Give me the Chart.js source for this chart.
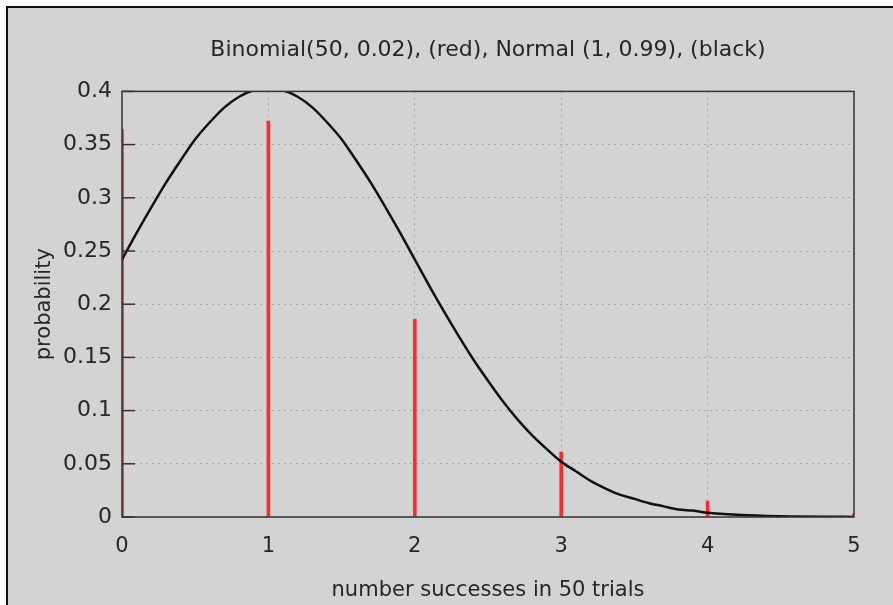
<!DOCTYPE html>
<html>
<head>
<meta charset="utf-8">
<script src="https://cdn.jsdelivr.net/npm/chart.js@4"></script>
<style>
    html, body { margin: 0; padding: 0; background: #fff; }
    #frame {
        position: absolute; left: 6px; top: 6px; width: 887px; height: 599px;
        border-top: 2px solid #111; border-left: 2px solid #111;
        background: #d3d3d3; box-sizing: border-box;
    }
    #chart { position: absolute; left: 0; top: 0; }
</style>
</head>
<body>
<div id="frame"></div>
<canvas id="chart" width="893" height="605"></canvas>
<script>
// ---- Data ----
const successes = [0, 1, 2, 3, 4, 5];
const binomialProb = [0.364, 0.372, 0.186, 0.061, 0.015, 0.003];

const curveX = [0, 0.1, 0.2, 0.3, 0.4, 0.5, 0.6, 0.7, 0.8, 0.9, 1.0,
    1.1, 1.2, 1.3, 1.4, 1.5, 1.6, 1.7, 1.8, 1.9, 2.0,
    2.1, 2.2, 2.3, 2.4, 2.5, 2.6, 2.7, 2.8, 2.9, 3.0,
    3.1, 3.2, 3.3, 3.4, 3.5, 3.6, 3.7, 3.8, 3.9, 4.0,
    4.2, 4.4, 4.6, 4.8, 5.0];
const curveY = [0.242, 0.267, 0.291, 0.314, 0.335, 0.355, 0.371, 0.385, 0.395, 0.401, 0.403,
    0.401, 0.395, 0.385, 0.371, 0.355, 0.335, 0.314, 0.291, 0.267, 0.242,
    0.217, 0.193, 0.170, 0.148, 0.128, 0.109, 0.092, 0.077, 0.064, 0.052,
    0.043, 0.034, 0.027, 0.021, 0.017, 0.013, 0.010, 0.007, 0.006, 0.004,
    0.002, 0.001, 0.0005, 0.0002, 0.0001];

const xTickLabels = ['0', '1', '2', '3', '4', '5'];
const yTickLabels = ['0', '0.05', '0.1', '0.15', '0.2', '0.25', '0.3', '0.35', '0.4'];

const TEXT = '#262626';
const FONT = "'DejaVu Sans', sans-serif";

// frame round the plot + short inward ticks on the left axis
const plotFrame = {
    id: 'plotFrame',
    afterDatasetsDraw(chart) {
        const { ctx, chartArea: a, scales } = chart;
        ctx.save();
        ctx.strokeStyle = '#333';
        ctx.lineWidth = 1.5;
        ctx.strokeRect(a.left, a.top, a.right - a.left, a.bottom - a.top);
        scales.y.ticks.forEach(t => {
            const py = scales.y.getPixelForValue(t.value);
            ctx.beginPath();
            ctx.moveTo(a.left, py);
            ctx.lineTo(a.left + 13, py);
            ctx.stroke();
        });
        ctx.restore();
    }
};

new Chart(document.getElementById('chart').getContext('2d'), {
    type: 'bar',
    data: {
        datasets: [{
            type: 'line',
            label: 'Normal',
            data: curveX.map((x, i) => ({ x: x, y: curveY[i] })),
            borderColor: '#111',
            borderWidth: 2.5,
            pointRadius: 0,
            cubicInterpolationMode: 'monotone',
            fill: false
        }, {
            type: 'bar',
            label: 'Binomial',
            data: successes.map((x, i) => ({ x: x, y: binomialProb[i] })),
            backgroundColor: '#ff2a2a',
            barThickness: 3
        }]
    },
    options: {
        responsive: false,
        animation: false,
        layout: { padding: { left: 0, right: 39, top: 0, bottom: 0 } },
        plugins: {
            legend: { display: false },
            tooltip: { enabled: false },
            title: {
                display: true,
                fullSize: false,
                text: 'Binomial(50, 0.02), (red), Normal (1, 0.99), (black)',
                color: TEXT,
                font: { family: FONT, size: 22, weight: 'normal' },
                padding: { top: 37, bottom: 28 }
            }
        },
        scales: {
            x: {
                type: 'linear',
                min: 0, max: 5,
                offset: false,
                afterFit: s => { s.height = 88; },
                grid: { offset: false, color: '#a8a8a8', drawTicks: false },
                border: { display: false, dash: [2, 4] },
                ticks: {
                    stepSize: 1,
                    padding: 17,
                    color: TEXT,
                    font: { family: FONT, size: 21 },
                    callback: (v) => xTickLabels[v] ?? ''
                },
                title: {
                    display: true,
                    text: 'number successes in 50 trials',
                    color: TEXT,
                    font: { family: FONT, size: 21 },
                    padding: { top: 0, bottom: 2 }
                }
            },
            y: {
                min: 0, max: 0.4,
                afterFit: s => { s.width = 122; },
                grid: { color: '#a8a8a8', drawTicks: false },
                border: { display: false, dash: [2, 4] },
                ticks: {
                    stepSize: 0.05,
                    padding: 10,
                    color: TEXT,
                    font: { family: FONT, size: 22 },
                    callback: (v, i) => yTickLabels[i] ?? ''
                },
                title: {
                    display: true,
                    text: 'probability',
                    color: TEXT,
                    font: { family: FONT, size: 21 },
                    padding: { top: 32, bottom: 0 }
                }
            }
        }
    },
    plugins: [plotFrame]
});
</script>
</body>
</html>
